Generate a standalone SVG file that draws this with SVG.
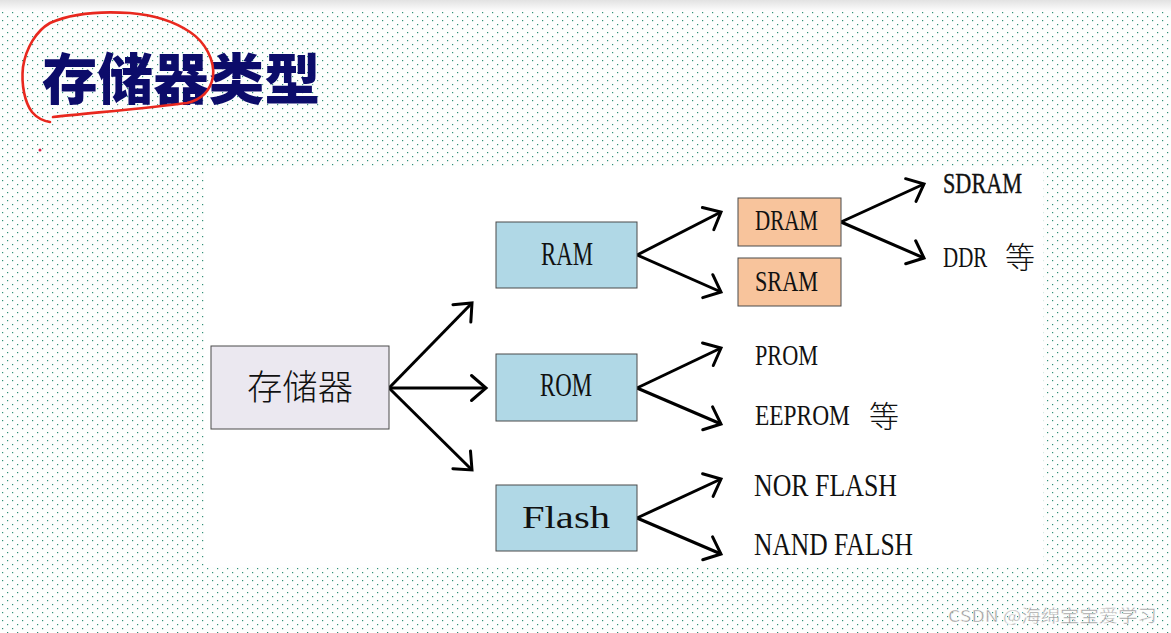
<svg xmlns="http://www.w3.org/2000/svg" width="1171" height="633" viewBox="0 0 1171 633">
<defs>
<pattern id="dots" x="2" y="12" width="10" height="8" patternUnits="userSpaceOnUse">
<rect x="0" y="0" width="1.2" height="1.2" fill="#2f8f78"/>
<rect x="5" y="4" width="1.2" height="1.2" fill="#2f8f78"/>
</pattern>
<linearGradient id="topband" x1="0" y1="0" x2="0" y2="1">
<stop offset="0" stop-color="#e2e2e2"/>
<stop offset="1" stop-color="#ffffff"/>
</linearGradient>
<marker id="arr" markerUnits="userSpaceOnUse" markerWidth="40" markerHeight="40" viewBox="-20 -20 40 40" refX="0" refY="0" orient="auto" overflow="visible">
<path d="M-14.5,-12.5 L0,0 L-14.5,12.5" fill="none" stroke="#000" stroke-width="3" stroke-linecap="round" stroke-linejoin="miter"/>
</marker>
<style>
.box{stroke:#4a4a4a;stroke-width:1}
.blue{fill:#b0d8e6}
.peach{fill:#f8c49c}
.lav{fill:#ebe8f0}
.lat{font-family:"Liberation Serif",serif;fill:#111}
.cjk{font-family:"Noto Sans CJK SC",sans-serif;fill:#111;font-weight:300}
.con line{stroke:#000;stroke-width:3;marker-end:url(#arr)}
</style>
</defs>
<rect x="0" y="0" width="1171" height="633" fill="#fdfefd"/>
<rect x="0" y="12" width="1171" height="621" fill="url(#dots)"/>
<rect x="0" y="0" width="1171" height="12" fill="url(#topband)"/>
<rect x="204" y="166" width="839" height="401" fill="#ffffff"/>

<g id="title">
<text x="42" y="99" font-family="'Noto Sans CJK SC',sans-serif" font-weight="900" font-size="55" fill="#0c0c6a" textLength="278" lengthAdjust="spacingAndGlyphs">存储器类型</text>
<path d="M53,117 C90,113 150,108 187,103 C200,100 210,92 213,77 C215,60 205,42 190,32 C175,22 155,15 130,13 C100,11 70,14 50,23 C36,31 26,48 23,67 C21,85 25,103 32,112 C37,118 44,121 50,122" fill="none" stroke="#e8281e" stroke-width="2.6" stroke-linecap="round"/>
<circle cx="40" cy="150" r="1.5" fill="#e0204a"/>
</g>

<g id="connectors" class="con">
<line x1="389" y1="388" x2="472" y2="303"/>
<line x1="389" y1="388" x2="486" y2="388"/>
<line x1="389" y1="388" x2="472" y2="470"/>
<line x1="637" y1="255" x2="721" y2="212"/>
<line x1="637" y1="255" x2="721" y2="292"/>
<line x1="841" y1="222" x2="924" y2="184"/>
<line x1="841" y1="222" x2="924" y2="258"/>
<line x1="637" y1="388" x2="721" y2="348"/>
<line x1="637" y1="388" x2="721" y2="424"/>
<line x1="637" y1="518" x2="721" y2="479"/>
<line x1="637" y1="518" x2="721" y2="554"/>
</g>

<g id="node-memory">
<rect class="box lav" x="211" y="346" width="178" height="83"/>
<text class="cjk" x="247" y="400" font-size="35" textLength="106" lengthAdjust="spacingAndGlyphs">存储器</text>
</g>
<g id="node-ram">
<rect class="box blue" x="496" y="222" width="141" height="66"/>
<text class="lat" x="541" y="265" font-size="33" textLength="52" lengthAdjust="spacingAndGlyphs">RAM</text>
</g>
<g id="node-rom">
<rect class="box blue" x="496" y="354" width="141" height="67"/>
<text class="lat" x="540" y="396" font-size="33" textLength="52" lengthAdjust="spacingAndGlyphs">ROM</text>
</g>
<g id="node-flash">
<rect class="box blue" x="496" y="485" width="141" height="66"/>
<text class="lat" x="522" y="528" font-size="31" textLength="88" lengthAdjust="spacingAndGlyphs">Flash</text>
</g>
<g id="node-dram">
<rect class="box peach" x="738" y="198" width="103" height="48"/>
<text class="lat" x="755" y="230" font-size="30" textLength="63" lengthAdjust="spacingAndGlyphs">DRAM</text>
</g>
<g id="node-sram">
<rect class="box peach" x="738" y="258" width="103" height="48"/>
<text class="lat" x="755" y="291" font-size="30" textLength="63" lengthAdjust="spacingAndGlyphs">SRAM</text>
</g>
<g id="node-sdram">
<text class="lat" x="943" y="193" font-size="30" stroke="#111" stroke-width="0.4" textLength="79" lengthAdjust="spacingAndGlyphs">SDRAM</text>
</g>
<g id="node-ddr">
<text class="lat" transform="translate(943,267) scale(0.7,1)" x="0" y="0" font-size="30">DDR</text>
<text class="cjk" x="1005" y="268" font-size="30">等</text>
</g>
<g id="node-prom">
<text class="lat" x="755" y="365" font-size="30" textLength="63" lengthAdjust="spacingAndGlyphs">PROM</text>
</g>
<g id="node-eeprom">
<text class="lat" transform="translate(755,425) scale(0.78,1)" x="0" y="0" font-size="30">EEPROM</text>
<text class="cjk" x="869" y="427" font-size="30">等</text>
</g>
<g id="node-nor">
<text class="lat" x="754" y="496" font-size="31" textLength="143" lengthAdjust="spacingAndGlyphs">NOR FLASH</text>
</g>
<g id="node-nand">
<text class="lat" x="754" y="555" font-size="31" textLength="159" lengthAdjust="spacingAndGlyphs">NAND FALSH</text>
</g>

<text x="948" y="622" font-family="'Noto Sans CJK SC',sans-serif" font-size="16.5" fill="#9a9a9a" stroke="#ffffff" stroke-width="0.4" textLength="209" lengthAdjust="spacingAndGlyphs">CSDN @海绵宝宝爱学习</text>
</svg>
